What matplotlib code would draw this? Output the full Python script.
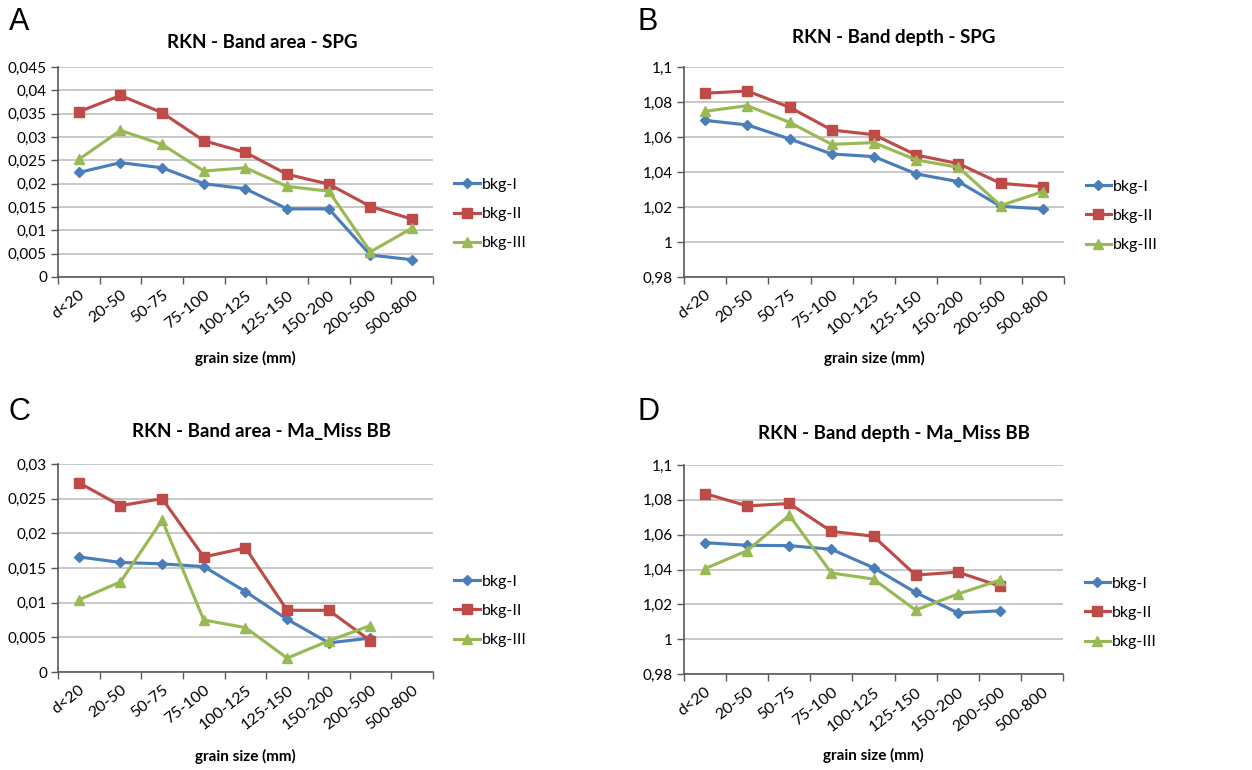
import matplotlib
matplotlib.use("Agg")
import matplotlib.pyplot as plt
import numpy as np
from matplotlib.ticker import FixedLocator, FuncFormatter

plt.rcParams['font.family'] = ['Lato', 'DejaVu Sans']

categories = ["d<20", "20-50", "50-75", "75-100", "100-125", "125-150", "150-200", "200-500", "500-800"]
series_names = ["bkg-I", "bkg-II", "bkg-III"]

# Panel A: Band area - SPG
a_bkg1 = [0.0224, 0.0245, 0.0234, 0.0200, 0.0189, 0.0146, 0.0146, 0.0047, 0.0037]
a_bkg2 = [0.0354, 0.0389, 0.0352, 0.0292, 0.0267, 0.0220, 0.0199, 0.0151, 0.0124]
a_bkg3 = [0.0252, 0.0314, 0.0284, 0.0227, 0.0234, 0.0194, 0.0184, 0.0054, 0.0105]

# Panel B: Band depth - SPG
b_bkg1 = [1.0695, 1.0669, 1.0589, 1.0503, 1.0488, 1.0389, 1.0345, 1.0204, 1.0189]
b_bkg2 = [1.0850, 1.0863, 1.0770, 1.0640, 1.0613, 1.0497, 1.0448, 1.0335, 1.0316]
b_bkg3 = [1.0747, 1.0779, 1.0684, 1.0558, 1.0568, 1.0469, 1.0427, 1.0208, 1.0288]

# Panel C: Band area - Ma_Miss BB (no 500-800 values)
c_bkg1 = [0.0166, 0.0158, 0.0156, 0.0152, 0.0116, 0.0076, 0.0042, 0.0049]
c_bkg2 = [0.0273, 0.0240, 0.0250, 0.0166, 0.0179, 0.0089, 0.0089, 0.0045]
c_bkg3 = [0.0104, 0.0130, 0.0219, 0.0075, 0.0064, 0.0020, 0.0045, 0.0067]

# Panel D: Band depth - Ma_Miss BB
d_bkg1 = [1.0554, 1.0539, 1.0537, 1.0516, 1.0410, 1.0268, 1.0151, 1.0163]
d_bkg2 = [1.0836, 1.0765, 1.0779, 1.0619, 1.0591, 1.0368, 1.0385, 1.0305]
d_bkg3 = [1.0405, 1.0508, 1.0711, 1.0380, 1.0345, 1.0167, 1.0259, 1.0339]

titles = ["RKN - Band area - SPG", "RKN - Band depth - SPG",
          "RKN - Band area - Ma_Miss BB", "RKN - Band depth - Ma_Miss BB"]
letters = ["A", "B", "C", "D"]
yticks_area_spg = [0, 0.005, 0.01, 0.015, 0.02, 0.025, 0.03, 0.035, 0.04, 0.045]
yticks_area_mm = [0, 0.005, 0.01, 0.015, 0.02, 0.025, 0.03]
yticks_depth = [0.98, 1.0, 1.02, 1.04, 1.06, 1.08, 1.1]

colors = ["#4A7EBB", "#BE4B48", "#98B954"]
markers = ["D", "s", "^"]
msizes = [5.5, 6.5, 7]

fig = plt.figure(figsize=(12.52, 7.70), dpi=100)
W, H = 1252, 770

panels = [
    dict(box=(58, 67, 433, 277), data=[a_bkg1, a_bkg2, a_bkg3], yt=yticks_area_spg,
         title_xy=(262, 42), letter_xy=(9, 22), legend_y=214, xlabel_y=358),
    dict(box=(684, 67, 1064, 277), data=[b_bkg1, b_bkg2, b_bkg3], yt=yticks_depth,
         title_xy=(894, 38), letter_xy=(638, 22), legend_y=216, xlabel_y=358),
    dict(box=(58, 464, 433, 672), data=[c_bkg1, c_bkg2, c_bkg3], yt=yticks_area_mm,
         title_xy=(262, 432), letter_xy=(8, 412), legend_y=611, xlabel_y=756),
    dict(box=(684, 465, 1063, 674), data=[d_bkg1, d_bkg2, d_bkg3], yt=yticks_depth,
         title_xy=(894, 433), letter_xy=(638, 412), legend_y=613, xlabel_y=755),
]

def fmt(v, pos):
    s = ("%.3f" % v).rstrip("0").rstrip(".")
    return s.replace(".", ",")

axis_col = "#595959"
for i, p in enumerate(panels):
    x0, y0, x1, y1 = p["box"]
    ax = fig.add_axes([x0 / W, 1 - y1 / H, (x1 - x0) / W, (y1 - y0) / H])
    for k, ser in enumerate(p["data"]):
        xs = np.arange(len(ser)) + 0.5
        ax.plot(xs, ser, color=colors[k], marker=markers[k], markersize=msizes[k],
                linewidth=2.25, label=series_names[k], zorder=3)
    ax.set_xlim(0, len(categories))
    yt = p["yt"]
    ax.set_ylim(yt[0], yt[-1])
    ax.yaxis.set_major_locator(FixedLocator(yt))
    ax.yaxis.set_major_formatter(FuncFormatter(fmt))
    ax.set_xticks(np.arange(len(categories) + 1))
    ax.set_xticklabels([])
    ax.set_xticks(np.arange(len(categories)) + 0.5, minor=True)
    ax.set_xticklabels(categories, minor=True, rotation=38, ha="right",
                       rotation_mode="anchor", fontsize=11.5)
    ax.tick_params(axis="x", which="minor", length=0, pad=8)
    ax.tick_params(axis="x", which="major", length=5, width=1, color=axis_col, direction="out")
    ax.tick_params(axis="y", length=5, width=1, color=axis_col, labelsize=11, pad=3)
    ax.grid(axis="y", color="#BFBFBF", linewidth=1.2, zorder=0)
    ax.set_axisbelow(True)
    for s in ["top", "right"]:
        ax.spines[s].set_visible(False)
    for s in ["left", "bottom"]:
        ax.spines[s].set_color(axis_col)
        ax.spines[s].set_linewidth(1.2)
    ax.legend(loc="center left", bbox_to_anchor=(1.04, (y1 - p["legend_y"]) / (y1 - y0)),
              frameon=False, fontsize=11.5, handlelength=1.6, handletextpad=0.1,
              labelspacing=0.95, borderaxespad=0)
    fig.text(((x0 + x1) / 2) / W, 1 - p["xlabel_y"] / H, "grain size (mm)", ha="center",
             va="center", fontsize=11, fontweight="bold")
    tx, ty = p["title_xy"]
    fig.text(tx / W, 1 - ty / H, titles[i], ha="center", va="center",
             fontsize=13.5, fontweight="bold")
    lx, ly = p["letter_xy"]
    fig.text(lx / W, 1 - ly / H, letters[i], ha="left", va="center",
             fontsize=22, family="Liberation Sans")

fig.savefig("out.png", dpi=100, facecolor="white")
